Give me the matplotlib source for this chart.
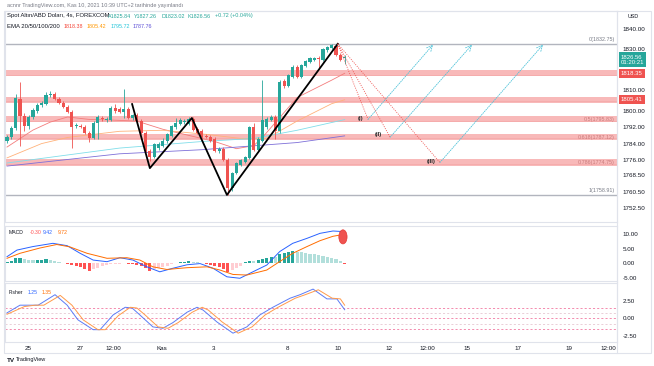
import numpy as np
import matplotlib.pyplot as plt
from matplotlib.patches import Ellipse, Rectangle
from matplotlib.lines import Line2D
from matplotlib.transforms import blended_transform_factory

plt.rcParams['font.family'] = ['Liberation Sans', 'DejaVu Sans']

# ---- data ----
opens = [1785.5, 1787.0, 1791.5, 1806.0, 1797.5, 1792.5, 1797.0, 1800.0, 1803.0, 1803.5,
         1807.5, 1808.0, 1806.0, 1804.0, 1802.0, 1799.5, 1792.5, 1792.5, 1792.0, 1789.0,
         1786.5, 1794.0, 1796.5, 1795.5, 1795.5, 1801.5, 1801.0, 1799.5, 1801.0, 1796.5,
         1798.0, 1795.0, 1789.0, 1780.5, 1777.5, 1782.0, 1783.0, 1785.5, 1787.5, 1792.0,
         1793.5, 1794.5, 1793.5, 1796.0, 1791.0, 1790.0, 1787.5, 1787.0, 1786.0, 1780.5,
         1781.5, 1776.0, 1762.5, 1769.5, 1773.5, 1775.0, 1777.0, 1792.0, 1781.0, 1785.5,
         1792.0, 1795.5, 1797.0, 1790.0, 1814.5, 1812.0, 1816.5, 1821.5, 1816.5, 1822.0,
         1824.0, 1825.0, 1825.8, 1825.0, 1829.5, 1830.5, 1831.5, 1827.5, 1825.84]
highs = [1788.0, 1792.5, 1808.0, 1814.0, 1799.0, 1798.0, 1801.5, 1804.0, 1805.0, 1809.0,
         1809.5, 1809.0, 1807.0, 1805.0, 1803.0, 1800.5, 1794.0, 1793.5, 1793.0, 1790.0,
         1795.0, 1798.0, 1797.5, 1797.0, 1802.5, 1803.5, 1802.0, 1810.5, 1802.0, 1798.5,
         1799.0, 1796.0, 1790.0, 1781.5, 1784.5, 1785.0, 1786.5, 1789.0, 1793.0, 1796.5,
         1796.5, 1796.0, 1797.0, 1797.0, 1792.0, 1791.0, 1788.5, 1788.0, 1787.0, 1782.5,
         1782.5, 1777.0, 1770.0, 1775.0, 1776.5, 1778.0, 1792.5, 1794.0, 1787.0, 1815.0,
         1797.0, 1798.0, 1798.0, 1815.0, 1815.5, 1818.0, 1822.5, 1822.5, 1823.0, 1825.0,
         1826.5, 1826.5, 1826.8, 1830.5, 1831.5, 1832.75, 1832.0, 1828.5, 1827.26]
lows = [1784.5, 1786.0, 1790.5, 1783.0, 1790.0, 1791.0, 1796.0, 1799.0, 1802.0, 1803.0,
        1807.0, 1805.5, 1803.5, 1801.5, 1799.0, 1782.0, 1791.5, 1791.5, 1788.5, 1785.0,
        1786.0, 1786.0, 1795.0, 1794.5, 1795.0, 1799.0, 1799.0, 1796.5, 1796.0, 1795.5,
        1794.5, 1788.5, 1780.0, 1775.5, 1777.0, 1781.0, 1782.5, 1784.5, 1787.0, 1791.0,
        1793.0, 1793.5, 1793.0, 1790.0, 1788.5, 1786.5, 1786.5, 1785.0, 1780.0, 1779.5,
        1775.5, 1759.0, 1761.0, 1769.0, 1773.0, 1774.5, 1776.5, 1780.5, 1780.0, 1785.0,
        1791.0, 1795.0, 1786.0, 1789.0, 1811.0, 1811.5, 1816.0, 1816.0, 1816.0, 1821.5,
        1823.5, 1824.5, 1821.0, 1824.5, 1829.0, 1830.0, 1827.0, 1824.5, 1823.02]
closes = [1787.0, 1791.5, 1806.5, 1797.5, 1792.5, 1797.0, 1800.5, 1803.0, 1804.0, 1807.5,
          1808.0, 1806.0, 1804.0, 1802.0, 1799.5, 1792.0, 1792.8, 1792.0, 1789.0, 1786.5,
          1794.0, 1797.0, 1795.8, 1796.2, 1801.5, 1800.0, 1799.5, 1801.0, 1796.5, 1798.0,
          1795.0, 1789.0, 1780.5, 1777.5, 1784.0, 1784.0, 1785.5, 1788.5, 1792.5, 1794.0,
          1795.5, 1795.0, 1796.0, 1790.5, 1789.0, 1787.0, 1787.0, 1785.5, 1780.5, 1781.5,
          1776.0, 1762.5, 1769.5, 1774.5, 1776.0, 1777.5, 1792.0, 1781.0, 1786.0, 1795.5,
          1796.0, 1797.0, 1790.0, 1814.0, 1812.0, 1817.5, 1821.5, 1816.5, 1822.5, 1824.5,
          1826.0, 1826.0, 1825.5, 1830.0, 1831.0, 1832.0, 1827.5, 1825.0, 1826.56]

ema20_x = [0, 6, 10, 14, 19, 24, 30, 36, 42, 48, 53, 57, 59, 67, 75, 78]
ema20_y = [1782.3, 1790.6, 1794.5, 1797.0, 1795.8, 1795.5, 1795.0, 1791.0, 1788.0, 1785.0,
           1781.5, 1783.0, 1787.0, 1806.5, 1815.0, 1818.35]
ema50_x = [0, 8, 14, 26, 36, 46, 54, 60, 67, 75, 78]
ema50_y = [1777.0, 1784.0, 1787.0, 1790.0, 1790.5, 1788.5, 1786.5, 1786.5, 1795.0, 1803.5, 1805.41]
ema100_x = [0, 26, 45, 57, 67, 78]
ema100_y = [1774.5, 1781.8, 1785.0, 1786.5, 1790.5, 1795.72]
ema200_x = [0, 26, 45, 67, 78]
ema200_y = [1773.0, 1779.0, 1781.0, 1784.5, 1787.76]

band_levels = [1818.35, 1805.41, 1795.83, 1787.12, 1774.75]
fib_top, fib_bottom = 1832.75, 1758.91
fib_labels = ["0.5(1795.83)", "0.618(1787.12)", "0.786(1774.75)"]

zig_x = [28.9, 33.0, 42.7, 50.8, 76.4]
zig_y = [1803.3, 1772.0, 1796.5, 1758.91, 1832.75]
proj_x = [83.4, 88.5, 100.0]
proj_y = [1795.83, 1787.12, 1774.75]
proj_names = ["(I)", "(II)", "(III)"]
target_x = [98.4, 107.4, 123.8]
target_y = 1832.3

hist = [0.5, 0.8, 1.7, 1.8, 1.4, 1.1, 1.0, 1.1, 1.2, 1.3,
        1.0, 0.8, 0.5, 0.2, -0.3, -0.7, -1.0, -1.4, -1.8, -2.6,
        -2.0, -1.5, -1.0, -0.6, -0.3, -0.2, -0.1, 0.1, -0.1, -0.3,
        -0.5, -0.8, -1.6, -2.6, -2.0, -1.6, -1.2, -0.8, -0.4, 0.2,
        0.4, 0.6, 0.9, 0.6, 0.4, 0.2, -0.1, -0.5, -1.0, -1.3,
        -1.9, -2.8, -2.2, -1.5, -0.9, 0.3, 0.8, 0.7, 1.2, 1.6,
        1.8, 2.2, 2.0, 3.0, 3.6, 3.9, 4.3, 4.0, 3.8, 3.6,
        3.3, 3.0, 2.7, 2.4, 2.1, 1.8, 1.3, 0.8, -0.3]
macd_x = [0, 2.3, 6, 10.6, 13.9, 16.9, 19.9, 23.1, 26.1, 29.1, 32.3, 35.3, 38.3, 41.6,
          44.6, 47.6, 50.8, 53.8, 56.8, 60, 63, 66, 69.3, 72.3, 75.3, 77.6]
macd_y = [2.25, 4.5, 5.7, 6.8, 6.0, 3.4, 1.1, 0.55, 1.9, 1.1, -1.2, -2.9, -1.7, -0.5,
          -0.1, -1.7, -4.6, -5.1, -2.9, -0.6, 4.0, 6.8, 8.5, 10.2, 11.0, 10.8]
signal_x = [0, 3, 7.6, 11.5, 14.5, 18.5, 23.1, 27.7, 30.7, 33.7, 36.9, 41.6, 46.2, 49.2,
            52.2, 55.4, 60, 63, 66, 69.3, 72.3, 75.3, 77.6]
signal_y = [1.7, 3.4, 5.2, 6.4, 5.6, 3.4, 1.7, 1.9, 1.1, -1.2, -2.1, -1.5, -1.2, -2.3,
            -3.8, -4.0, -2.3, 0.6, 3.4, 5.7, 7.7, 9.2, 9.8]

fisher_x = [0, 3, 5.3, 7.2, 11.1, 13.9, 16.4, 19.9, 21.5, 24.5, 27.3, 28.9, 30.7, 33.7,
            36, 38.3, 41.6, 43.9, 45.3, 48.5, 52.2, 55.4, 58.4, 61.4, 65.4, 67.7, 70.7,
            73.9, 76.2, 78]
fisher_y = [0.8, 1.9, 1.9, 1.9, 3.4, 1.9, -0.2, -1.6, -1.6, 0.5, 1.6, 1.5, 0.5, -1.2,
            -1.4, -0.6, 0.9, 1.6, 1.2, -0.5, -2.1, -1.2, 0.5, 1.6, 2.9, 3.4, 4.2,
            2.8, 2.8, 1.25]
trigger_x = [0, 4, 6.5, 8.5, 12.3, 15, 17.6, 21, 22.7, 25.7, 28.5, 30, 31.9, 34.9,
             37.2, 39.5, 42.8, 45.1, 46.5, 49.7, 53.4, 56.6, 59.6, 62.6, 66.6, 68.9,
             71.9, 75.1, 77, 78]
trigger_y = [0.6, 1.7, 1.9, 1.9, 3.3, 1.9, -0.2, -1.6, -1.6, 0.4, 1.6, 1.5, 0.5, -1.2,
             -1.4, -0.6, 0.9, 1.6, 1.2, -0.5, -2.1, -1.2, 0.5, 1.6, 2.9, 3.4, 4.1,
             2.9, 2.8, 1.9]
fisher_levels = [1.5, 0.75, 0, -0.75, -1.5]

price_ticks = [1840, 1830, 1810, 1800, 1792, 1784, 1776, 1768.5, 1760.5, 1752.5]
time_ticks = [4.85, 16.86, 24.5, 35.8, 47.6, 64.7, 76.4, 88.2, 97.0, 106.2, 118.0, 129.8, 138.8]
time_labels = ["25", "27", "12:00", "Kas", "3", "8", "10", "12", "12:00", "15", "17", "19", "12:00"]

# ---- colours ----
GREEN = '#26a69a'
RED = '#ef5350'
TXT = '#131722'
GRAY = '#787b86'
BORDER = '#e0e3eb'
SMALL = 3.9

W, H = 654, 366
fig = plt.figure(figsize=(6.54, 3.66), dpi=100)


def fx(px):
    return px / W


def fy(py):
    return 1 - py / H


def pane(top, bottom):
    a = fig.add_axes([fx(5), fy(bottom), fx(617) - fx(5), fy(top) - fy(bottom)])
    a.set_xlim(-0.46, 140.9)
    for s in a.spines.values():
        s.set_color(BORDER)
        s.set_linewidth(0.8)
    a.yaxis.tick_right()
    a.tick_params(axis='y', length=0, labelsize=4.5, labelcolor=TXT, pad=4)
    a.tick_params(axis='x', length=0)
    return a


ax = pane(11, 222)
axm = pane(226, 281)
axf = pane(283, 342)

# ---- main pane ----
ax.set_ylim(1745.67, 1848.8)
ax.set_yticks(price_ticks)
ax.set_yticklabels([f"{v:.2f}" for v in price_ticks])
ax.set_xticks([])

for lv in band_levels:
    ax.axhspan(lv - 1.5, lv + 1.5, color='#f8b9b9', lw=0, zorder=1)
    ax.axhline(lv - 0.6, color='#f4a3a3', lw=0.4, zorder=1)
for lv in (fib_top, fib_bottom):
    ax.axhline(lv, color='#b2b5be', lw=1.0, zorder=1)

xb = np.arange(len(closes))
o = np.array(opens); c = np.array(closes)
cols = [GREEN if cc >= oo else RED for oo, cc in zip(o, c)]
ax.vlines(xb, lows, highs, colors=cols, lw=0.6, zorder=3)
body = np.maximum(np.abs(c - o), 0.35)
ax.bar(xb, body, bottom=np.minimum(o, c), width=0.72, color=cols, lw=0, zorder=4)

ax.plot(ema20_x, ema20_y, color='#f47c7c', lw=0.6, zorder=2)
ax.plot(ema50_x, ema50_y, color='#ffb27a', lw=0.6, zorder=2)
ax.plot(ema100_x, ema100_y, color='#80deea', lw=0.6, zorder=2)
ax.plot(ema200_x, ema200_y, color='#7e6fd8', lw=0.6, zorder=2)

ax.plot(zig_x, zig_y, color='black', lw=1.3, zorder=5)

for px_, py_, tx_ in zip(proj_x, proj_y, target_x):
    ax.plot([zig_x[-1], px_], [zig_y[-1], py_], color=RED, lw=0.6, ls=(0, (1.2, 1.5)), zorder=5)
    ax.annotate('', xy=(tx_, target_y), xytext=(px_, py_),
                arrowprops=dict(arrowstyle='->', color='#4fc3d9', lw=0.6,
                                linestyle=(0, (1.2, 1.5)), shrinkA=0, shrinkB=0), zorder=5)
for tx_, ty_, name in zip([81.6, 85.8, 98.0], [1796.3, 1788.2, 1775.3], proj_names):
    ax.text(tx_, ty_, name, fontsize=4.4, fontweight='bold', color='#333',
            ha='center', va='center', zorder=6)

ax.text(140.4, fib_top + 0.8, "0(1832.75)", fontsize=SMALL, color=GRAY, ha='right', va='bottom')
ax.text(140.4, fib_bottom + 0.8, "1(1758.91)", fontsize=SMALL, color=GRAY, ha='right', va='bottom')
for lv, lab in zip(band_levels[2:], fib_labels):
    ax.text(140.4, lv, lab, fontsize=SMALL, color='#c97b7b', ha='right', va='center')

trans = blended_transform_factory(ax.transAxes, ax.transData)
ax.text(1.006, closes[-1] - 1.6, f"{closes[-1]:.2f}\n01:20:21", transform=trans, fontsize=4.3,
        color='white', ha='left', va='center', linespacing=1.1,
        bbox=dict(boxstyle='square,pad=0.35', fc=GREEN, ec='none'), clip_on=False)
for lv in band_levels[:2]:
    ax.text(1.006, lv, f"{lv:.2f}", transform=trans, fontsize=4.3, color='white',
            ha='left', va='center', bbox=dict(boxstyle='square,pad=0.35', fc=RED, ec='none'),
            clip_on=False)

# ---- MACD pane ----
axm.set_ylim(-6.03, 12.7)
axm.set_yticks([10, 5, 0, -5])
axm.set_yticklabels(["10.00", "5.00", "0.00", "-5.00"])
axm.set_xticks([])
hcols = []
for i, h in enumerate(hist):
    prev = hist[i - 1] if i > 0 else 0
    if h >= 0:
        hcols.append('#26a69a' if h > prev else '#b2dfdb')
    else:
        hcols.append('#ff5252' if h < prev else '#ffcdd2')
axm.bar(xb, hist, width=0.72, color=hcols, lw=0)
axm.plot(macd_x, macd_y, color='#2962ff', lw=0.7)
axm.plot(signal_x, signal_y, color='#ff6d00', lw=0.7)
axm.add_patch(Ellipse((macd_x[-1], 9.0), 1.9, 4.8, fc='#ef5350', ec='#e53935', lw=0.5, zorder=5))

# ---- Fisher pane ----
axf.set_ylim(-3.36, 5.07)
axf.set_yticks([2.5, 0, -2.5])
axf.set_yticklabels(["2.50", "0.00", "-2.50"])
for lv in fisher_levels:
    axf.axhline(lv, color='#e91e63' if lv in (1.5, 0, -1.5) else '#d7a3b5',
                lw=0.6, ls=(0, (2.5, 2.5)), alpha=0.6)
axf.plot(fisher_x, fisher_y, color='#5b7cf6', lw=0.7)
axf.plot(trigger_x, trigger_y, color='#ff9a4a', lw=0.7)
axf.set_xticks(time_ticks)
axf.set_xticklabels(time_labels)
axf.tick_params(axis='x', labelsize=4.5, labelcolor=TXT, pad=3)

# ---- header and frame ----
fig.text(fx(7), fy(5), "acnnr TradingView.com, Kas 10, 2021 10:39 UTC+2 tarihinde yayınlandı",
         fontsize=4.0, color=GRAY, va='center')
fig.text(fx(7), fy(16), "Spot Altın/ABD Doları, 4s, FOREXCOM", fontsize=4.25, color=TXT, va='center')
for xp, s in zip([108, 134, 161, 188, 215],
                 ["A1825.84", "Y1827.26", "D1823.02", "K1826.56", "+0.72 (+0.04%)"]):
    fig.text(fx(xp), fy(16), s, fontsize=SMALL, color=GREEN, va='center')
fig.text(fx(7), fy(26), "EMA 20/50/100/200", fontsize=4.3, color=TXT, va='center')
for xp, s, col in zip([64, 87, 111, 133], ["1818.38", "1805.42", "1795.72", "1787.76"],
                      ['#f44336', '#ff9800', '#26c6da', '#5c4fd6']):
    fig.text(fx(xp), fy(26), s, fontsize=SMALL, color=col, va='center')
fig.text(fx(633), fy(17), "USD", fontsize=SMALL, color=TXT, va='center', ha='center')

fig.text(fx(9), fy(232), "MACD", fontsize=3.7, color=TXT, va='center')
for xp, s, col in zip([30, 43, 58], ["-0.30", "9.42", "9.72"], ['#ff5252', '#2962ff', '#ff6d00']):
    fig.text(fx(xp), fy(232), s, fontsize=3.7, color=col, va='center')
fig.text(fx(9), fy(293), "Fisher", fontsize=3.7, color=TXT, va='center')
for xp, s, col in zip([28, 42], ["1.25", "1.35"], ['#2962ff', '#ff6d00']):
    fig.text(fx(xp), fy(293), s, fontsize=3.7, color=col, va='center')

fig.text(fx(7), fy(360), "TV", fontsize=4.6, color=TXT, va='center', fontweight='bold')
fig.text(fx(16), fy(360), "TradingView", fontsize=4.0, color=TXT, va='center')

fig.add_artist(Rectangle((fx(4), fy(353)), fx(651) - fx(4), fy(11) - fy(353),
                         transform=fig.transFigure, fill=False, ec=BORDER, lw=0.8))
fig.add_artist(Line2D([fx(617), fx(617)], [fy(353), fy(11)], transform=fig.transFigure,
                      color=BORDER, lw=0.8))

fig.savefig('out.png', dpi=100)
